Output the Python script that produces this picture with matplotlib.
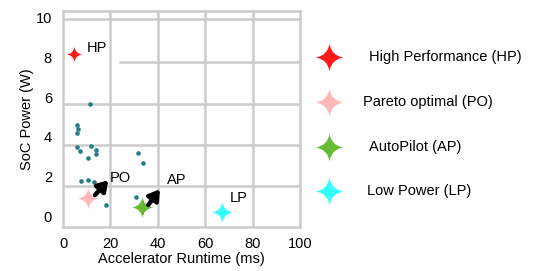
import matplotlib
matplotlib.use("Agg")
import matplotlib.pyplot as plt
from matplotlib.path import Path

plt.rcParams["font.family"] = ["Liberation Sans", "DejaVu Sans"]

# --- datos ---
dots_x = [11.4, 6.0, 6.3, 6.0, 6.0, 7.3, 11.7, 13.8, 14.0, 10.4, 31.8, 33.6,
          7.5, 10.4, 13.1, 18.0, 30.8]
dots_y = [5.64, 4.58, 4.42, 4.22, 3.50, 3.28, 3.55, 3.33, 3.13, 2.95, 3.17, 2.69,
          1.77, 1.81, 1.71, 0.58, 0.98]

modes = ["HP", "PO", "AP", "LP"]
mode_x = [4.6, 10.7, 33.2, 66.9]
mode_y = [8.19, 0.90, 0.45, 0.20]
mode_colors = ["#ff1a1a", "#ffb8b8", "#66bb33", "#33ffff"]
mode_names = ["High Performance (HP)", "Pareto optimal (PO)",
              "AutoPilot (AP)", "Low Power (LP)"]

# posicion de las etiquetas de texto en la grafica
label_x = [10.2, 19.8, 43.7, 70.5]
label_y = [8.5, 1.92, 1.82, 0.92]

# flechas (inicio -> fin)
arrows = [((13.5, 1.07), (19.1, 1.82)), ((36.0, 0.57), (40.9, 1.36))]

x_ticks = [0, 20, 40, 60, 80, 100]
y_ticks = [0, 2, 4, 6, 8, 10]
y_grid = [9.95, 7.75, 5.64, 3.58, 1.52]

# estrella de 4 puntas con lados concavos
c = 0.13
star = Path(
    [(0, 1), (c, c), (1, 0), (c, -c), (0, -1), (-c, -c), (-1, 0), (-c, c), (0, 1)],
    [Path.MOVETO] + [Path.CURVE3] * 8,
)

fig = plt.figure(figsize=(5.38, 2.71), dpi=100)
ax = fig.add_axes([63 / 538, 1 - 227 / 271, 237 / 538, 216 / 271])
ax.set_xlim(0, 100)
ax.set_ylim(-0.54, 10.34)

grid_color = "#cccccc"
for gx in x_ticks[1:-1]:
    ax.axvline(gx, color=grid_color, lw=1.8, zorder=0)
for i, gy in enumerate(y_grid):
    xmin = 0.24 if i == 1 else 0
    ax.axhline(gy, xmin=xmin, color=grid_color, lw=1.8, zorder=0)

for s in ax.spines.values():
    s.set_color(grid_color)
    s.set_linewidth(1.8)

ax.set_xticks(x_ticks)
ax.set_yticks(y_ticks)
ax.tick_params(length=0, labelsize=10.5, pad=7)
ax.tick_params(axis="y", pad=8)
ax.set_xlabel("Accelerator Runtime (ms)", fontsize=10.5, labelpad=1)
ax.set_ylabel("SoC Power (W)", fontsize=10.5, labelpad=1)

ax.scatter(dots_x, dots_y, s=11, color="#237d85", zorder=2, linewidths=0)

sizes = [11, 15, 15, 15]
for mx, my, col, ms in zip(mode_x, mode_y, mode_colors, sizes):
    ax.plot(mx, my, marker=star, ms=ms, color=col, mew=0, ls="none", zorder=3)

for name, lx, ly in zip(modes, label_x, label_y):
    ax.text(lx, ly, name, fontsize=10.5, ha="left", va="center", zorder=4)

for start, end in arrows:
    ax.annotate("", xy=end, xytext=start, zorder=5,
                arrowprops=dict(arrowstyle="-|>,head_length=0.6,head_width=0.38",
                                lw=3.2, color="black", shrinkA=0, shrinkB=0))

# leyenda a la derecha
leg = fig.add_axes([0, 0, 1, 1], zorder=-1)
leg.set_xlim(0, 538)
leg.set_ylim(271, 0)
leg.axis("off")
leg_y = [56.7, 101.7, 146.7, 191]
leg_text_x = [369, 363, 369, 367]
for col, name, yy, tx in zip(mode_colors, mode_names, leg_y, leg_text_x):
    leg.plot(329, yy, marker=star, ms=20, color=col, mew=0, ls="none")
    leg.text(tx, yy, name, fontsize=10.5, ha="left", va="center")

fig.savefig("out.png", dpi=100)
